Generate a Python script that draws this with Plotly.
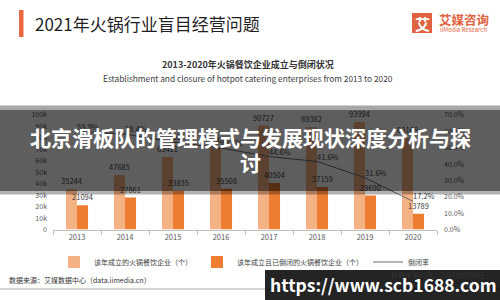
import plotly.graph_objects as go

years = ["2013", "2014", "2015", "2016", "2017", "2018", "2019", "2020"]
established = [35244, 47685, 63411, 71301, 90727, 89382, 93994, 80168]
closed = [21094, 27861, 33835, 35508, 40504, 37159, 29690, 13789]
close_rate = [0.599, 0.584, 0.534, 0.498, 0.446, 0.416, 0.316, 0.172]

series_names = ["该年成立的火锅餐饮企业（个）", "该年成立且已倒闭的火锅餐饮企业（个）", "倒闭率"]

W, H = 500, 300
FONT = "Noto Sans CJK SC"


def px(x):
    return x / W


def py(y):
    return 1 - y / H


fig = go.Figure()
fig.add_trace(go.Bar(
    x=years, y=established, name=series_names[0],
    marker=dict(color="#F4B183", line=dict(width=0)),
    text=[str(v) for v in established], textposition="outside", constraintext="none",
    textfont=dict(size=7.5, color="#404040", family=FONT), cliponaxis=False,
))
fig.add_trace(go.Bar(
    x=years, y=closed, name=series_names[1],
    marker=dict(color="#ED7D31", line=dict(width=0)),
    text=[str(v) for v in closed], textposition="outside", constraintext="none",
    textfont=dict(size=7.5, color="#404040", family=FONT), cliponaxis=False,
))
fig.add_trace(go.Scatter(
    x=years, y=close_rate, name=series_names[2], yaxis="y2",
    mode="lines+text", line=dict(color="#6b6b6b", width=1),
    text=[f"{v*100:.1f}%" for v in close_rate], textposition="top right",
    textfont=dict(size=7.5, color="#404040", family=FONT), cliponaxis=False,
))

shapes = []
annotations = []

# header
shapes.append(dict(type="rect", xref="paper", yref="paper", x0=px(19), x1=px(23.5), y0=py(37), y1=py(10),
                   fillcolor="#E8683F", line=dict(width=0)))
annotations.append(dict(text="2021年火锅行业盲目经营问题", x=px(33), y=py(23), xref="paper", yref="paper",
                        xanchor="left", yanchor="middle", showarrow=False,
                        font=dict(size=17, color="#1f1f1f", family=FONT)))
# logo
shapes.append(dict(type="rect", xref="paper", yref="paper", x0=px(412), x1=px(432), y0=py(33), y1=py(13),
                   fillcolor="#E0623E", line=dict(width=0)))
annotations.append(dict(text="<b>艾</b>", x=px(422), y=py(23), xref="paper", yref="paper",
                        xanchor="center", yanchor="middle", showarrow=False,
                        font=dict(size=15, color="white", family=FONT)))
annotations.append(dict(text="<b>艾媒咨询</b>", x=px(437), y=py(19.5), xref="paper", yref="paper",
                        xanchor="left", yanchor="middle", showarrow=False,
                        font=dict(size=12.5, color="#E0623E", family=FONT)))
annotations.append(dict(text="iiMedia Research", x=px(438), y=py(30), xref="paper", yref="paper",
                        xanchor="left", yanchor="middle", showarrow=False,
                        font=dict(size=6, color="#E0623E", family=FONT)))
# chart titles
annotations.append(dict(text="<b>2013-2020年火锅餐饮企业成立与倒闭状况</b>", x=px(248), y=py(64), xref="paper",
                        yref="paper", xanchor="center", yanchor="middle", showarrow=False,
                        font=dict(size=9, color="#333333", family=FONT)))
annotations.append(dict(text="Establishment and closure of hotpot catering enterprises from 2013 to 2020",
                        x=px(248), y=py(78), xref="paper", yref="paper", xanchor="center", yanchor="middle",
                        showarrow=False, font=dict(size=8.3, color="#404040", family=FONT)))
# footer
annotations.append(dict(text="数据来源：艾媒数据中心（data.iimedia.cn）", x=px(7), y=py(280), xref="paper", yref="paper",
                        xanchor="left", yanchor="middle", showarrow=False,
                        font=dict(size=7, color="#333333", family=FONT)))
annotations.append(dict(text="数据来源时间：2021年8月6日", x=px(486), y=py(275), xref="paper", yref="paper",
                        xanchor="right", yanchor="middle", showarrow=False,
                        font=dict(size=7, color="#333333", family=FONT)))
shapes.append(dict(type="line", xref="paper", yref="paper", x0=0, x1=1, y0=py(289), y1=py(289),
                   line=dict(color="#c8c8c8", width=1.5)))

# overlay band
shapes.append(dict(type="rect", xref="paper", yref="paper", x0=0, x1=1, y0=py(191), y1=py(110),
                   fillcolor="rgba(0,0,0,0.63)", line=dict(width=0), layer="above"))
shapes.append(dict(type="rect", xref="paper", yref="paper", x0=0, x1=1, y0=py(110), y1=py(105.5),
                   fillcolor="rgba(120,120,120,0.65)", line=dict(width=0), layer="above"))
shapes.append(dict(type="rect", xref="paper", yref="paper", x0=0, x1=1, y0=py(194.5), y1=py(191),
                   fillcolor="rgba(0,0,0,0.3)", line=dict(width=0), layer="above"))
annotations.append(dict(text="<b>北京滑板队的管理模式与发展现状深度分析与探</b>", x=px(250), y=py(137),
                        xref="paper", yref="paper", xanchor="center", yanchor="middle", showarrow=False,
                        font=dict(size=21, color="white", family=FONT)))
annotations.append(dict(text="<b>讨</b>", x=px(250), y=py(162), xref="paper", yref="paper",
                        xanchor="center", yanchor="middle", showarrow=False,
                        font=dict(size=21, color="white", family=FONT)))

# watermark box
shapes.append(dict(type="rect", xref="paper", yref="paper", x0=px(265), x1=1, y0=0, y1=py(270),
                   fillcolor="rgba(0,0,0,0.86)", line=dict(width=0), layer="above"))
annotations.append(dict(text="<b>https://www.scb1688.com</b>", x=px(383), y=py(284), xref="paper", yref="paper",
                        xanchor="center", yanchor="middle", showarrow=False,
                        font=dict(size=17.5, color="white", family=FONT)))

fig.update_layout(
    width=W, height=H,
    margin=dict(l=0, r=0, t=0, b=0, autoexpand=False),
    paper_bgcolor="white", plot_bgcolor="white",
    barmode="group", bargap=0.54, bargroupgap=0,
    font=dict(family=FONT, color="#595959"),
    xaxis=dict(domain=[px(53), px(437)], type="category",
               showline=True, linecolor="#bfbfbf", linewidth=1,
               ticks="outside", tickson="boundaries", ticklen=4, tickcolor="#bfbfbf",
               tickfont=dict(size=7.5, color="#595959"), showgrid=False),
    yaxis=dict(domain=[py(229.5), py(115)], range=[0, 100000], dtick=10000,
               showgrid=False, zeroline=False, showline=False,
               tickfont=dict(size=7, color="#595959"), ticklabelstandoff=5),
    yaxis2=dict(overlaying="y", side="right", range=[0, 0.7], dtick=0.1, tickformat=".1%",
                showgrid=False, zeroline=False, showline=False,
                tickfont=dict(size=7, color="#595959"), ticklabelstandoff=6),
    showlegend=True,
    legend=dict(orientation="h", x=px(244), xanchor="center", y=py(262), yanchor="middle",
                font=dict(size=7, color="#404040", family=FONT), bgcolor="rgba(0,0,0,0)",
                itemwidth=30, tracegroupgap=0),
    shapes=shapes, annotations=annotations,
)

fig.write_html("out.html")
